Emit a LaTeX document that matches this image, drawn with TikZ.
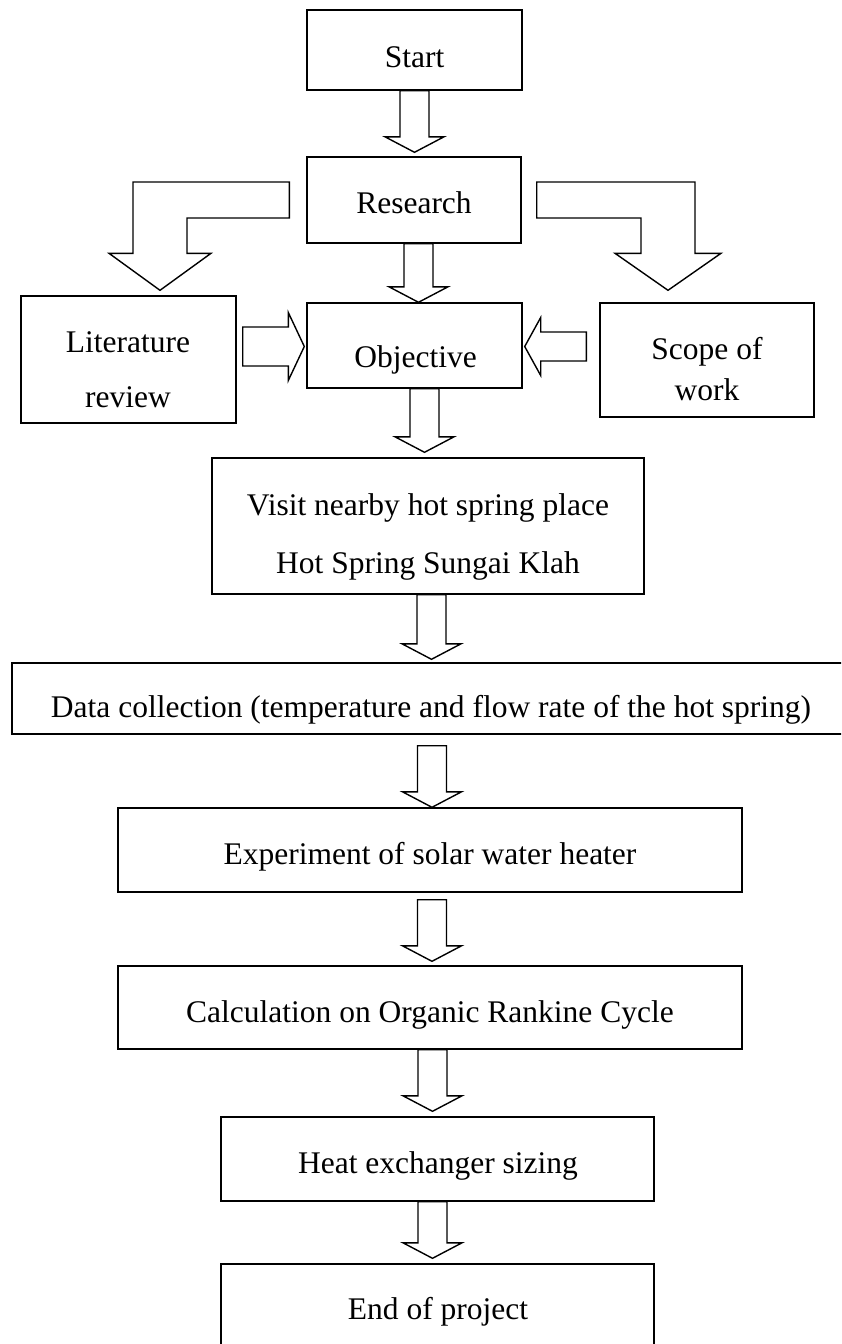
\documentclass[tikz,border=0pt]{standalone}
\usepackage{fontspec}
\setmainfont{Liberation Serif}
\usetikzlibrary{calc}

% hollow block arrow, straight down, tip under the start point
\newcommand{\vblock}[2]{%
  \draw[blk] let \p1=(#1), \p2=(#2) in
    (\x1-14.5pt,\y1) -- (\x1-14.5pt,\y2+15.5pt) -- (\x1-29.5pt,\y2+15.5pt) -- (\x1,\y2)
    -- (\x1+29.5pt,\y2+15.5pt) -- (\x1+14.5pt,\y2+15.5pt) -- (\x1+14.5pt,\y1) -- cycle;}
% hollow block arrow, sideways: head length, shaft half width, head half width
\newcommand{\hblock}[5]{%
  \draw[blk] let \p1=(#1), \p2=(#2), \n1={#3} in
    (\x1,\y2+#4) -- ({\x2-\n1},\y2+#4) -- ({\x2-\n1},\y2+#5) -- (\x2,\y2)
    -- ({\x2-\n1},\y2-#5) -- ({\x2-\n1},\y2-#4) -- (\x1,\y2-#4) -- cycle;}

\begin{document}
\begin{tikzpicture}[x=1pt, y=-1pt]
\tikzstyle{box}=[draw, line width=1.4pt, inner sep=0pt]
\tikzstyle{blk}=[draw, line width=1.4pt, fill=white, line join=miter]
\tikzstyle{lbl}=[font=\fontsize{31.5}{38}\selectfont, inner sep=0pt, anchor=base]
\useasboundingbox (0,0) rectangle (841,1344);
\clip (0,0) rectangle (841,1344);

% boxes
\node[box, minimum width=215, minimum height=80] (start) at (414.5,50) {};
\node[box, minimum width=214, minimum height=86] (research) at (414,200) {};
\node[box, minimum width=215, minimum height=85] (objective) at (414.5,345.5) {};
\node[box, minimum width=215, minimum height=127] (lit) at (128.5,359.5) {};
\node[box, minimum width=214, minimum height=114] (scope) at (707,360) {};
\node[box, minimum width=432, minimum height=136] (visit) at (428,526) {};
\node[box, minimum width=889, minimum height=71] (data) at (456.5,698.5) {};
\node[box, minimum width=624, minimum height=84] (exp) at (430,850) {};
\node[box, minimum width=624, minimum height=83] (calc) at (430,1007.5) {};
\node[box, minimum width=433, minimum height=84] (heat) at (437.5,1159) {};
\node[box, minimum width=433, minimum height=106] (endp) at (437.5,1317) {};

% texts
\node[lbl] (starttxt) at (414.5,67) {Start};
\node[lbl] (researchtxt) at (414,213) {Research};
\node[lbl] (objectivetxt) at (415.5,367) {Objective};
\node[lbl] (littxt) at (128,352) {Literature};
\node[lbl] (littxtb) at (128,407) {review};
\node[lbl] (scopetxt) at (707,359) {Scope of};
\node[lbl] (scopetxtb) at (707,400) {work};
\node[lbl] (visittxt) at (428,515) {Visit nearby hot spring place};
\node[lbl] (visittxtb) at (428,573) {Hot Spring Sungai Klah};
\node[lbl] (datatxt) at (431,717) {Data collection (temperature and flow rate of the hot spring)};
\node[lbl] (exptxt) at (430,864) {Experiment of solar water heater};
\node[lbl] (calctxt) at (430,1022) {Calculation on Organic Rankine Cycle};
\node[lbl] (heattxt) at (438,1173) {Heat exchanger sizing};
\node[lbl] (endtxt) at (438,1319) {End of project};

% down arrows
\vblock{start.south}{$(research.north)+(0,-4)$}
\vblock{$(research.south)+(4.5,0)$}{objective.north}
\vblock{$(objective.south)+(10,0)$}{$(visit.north)+(0,-5)$}
\vblock{$(visit.south)+(3.5,0)$}{$(data.north)+(0,-3)$}
\vblock{$(exp.north |- data.south)+(2,11)$}{exp.north}
\vblock{$(exp.south)+(2,7)$}{$(calc.north)+(0,-4)$}
\vblock{$(heat.north |- calc.south)+(-5,0)$}{$(heat.north)+(0,-5)$}
\vblock{$(heat.south)+(-5,0)$}{$(endp.north)+(0,-5)$}

% side arrows into objective
\hblock{$(lit.east)+(6,-13)$}{$(objective.west)+(-2,1)$}{16}{19.5pt}{34pt}
\hblock{$(scope.west)+(-13,0)$}{$(objective.east)+(2,1)$}{-16}{14.5pt}{29pt}

% bent arrows out of research
\draw[blk] let \p1=($(research.west)+(-17,0)$), \p2=($(lit.north)+(31.5,-5)$) in
  (\x1,\y1+18pt) -- (\x2-27pt,\y1+18pt) -- (\x2-27pt,\y2+37pt) -- (\x2-51pt,\y2+37pt)
  -- (\x2,\y2) -- (\x2+51pt,\y2+37pt) -- (\x2+27pt,\y2+37pt) -- (\x2+27pt,\y1-18pt)
  -- (\x1,\y1-18pt) -- cycle;
\draw[blk] let \p1=($(research.east)+(15,0)$), \p2=($(scope.north)+(-39,-12)$) in
  (\x1,\y1+18pt) -- (\x2+27pt,\y1+18pt) -- (\x2+27pt,\y2+37pt) -- (\x2+53pt,\y2+37pt)
  -- (\x2,\y2) -- (\x2-53pt,\y2+37pt) -- (\x2-27pt,\y2+37pt) -- (\x2-27pt,\y1-18pt)
  -- (\x1,\y1-18pt) -- cycle;

\end{tikzpicture}
\end{document}
